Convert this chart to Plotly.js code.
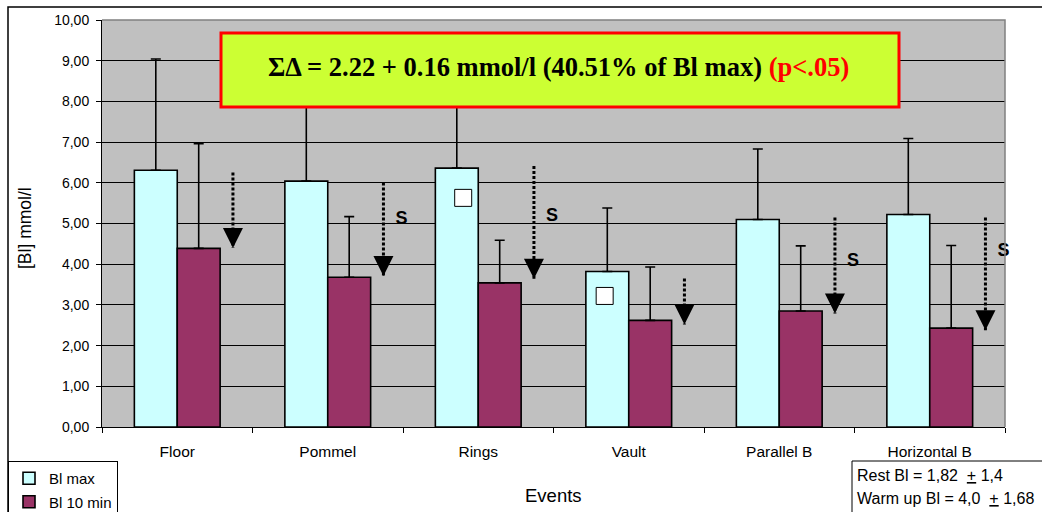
<!DOCTYPE html>
<html>
<head>
<meta charset="utf-8">
<script src="https://cdn.plot.ly/plotly-3.0.1.min.js"></script>
<style>
  html, body { margin: 0; padding: 0; background: #fff; }
  #chart { width: 1042px; height: 512px; }
</style>
</head>
<body>
<div id="chart"></div>
<script>
// Blood lactate per gymnastics event: peak value and value after 10 min
const events = ['Floor', 'Pommel', 'Rings', 'Vault', 'Parallel B', 'Horizontal B'];
const blMax = [6.31, 6.04, 6.36, 3.82, 5.10, 5.22];
const blMaxSd = [2.73, 2.46, 2.24, 1.56, 1.73, 1.87];
const bl10 = [4.39, 3.68, 3.54, 2.62, 2.85, 2.43];
const bl10Sd = [2.57, 1.49, 1.05, 1.31, 1.60, 2.03];

// Drop arrows (from -> to, mmol/l) and significance flags
const dropFrom = [6.25, 6.01, 6.41, 3.65, 5.15, 5.15];
const dropTo = [4.40, 3.71, 3.64, 2.52, 2.79, 2.38];
const sigLabel = ['', 'S', 'S', '', 'S', 'S'];
const sigLevel = [0, 5.09, 5.17, 0, 4.06, 4.32];

// Open square markers inside the Rings and Vault peak bars
const squareEvent = [2, 3];
const squareLevel = [5.63, 3.22];

const FONT = 'Liberation Sans, Arial, sans-serif';
const NB = '\u00a0';
const arrowShift = 0.37;
const sigShift = 0.49;
const squareShift = [-0.1, -0.16];

// Dotted shafts, one segment per event, separated by gaps
const shaftX = [], shaftY = [];
events.forEach((e, i) => {
  shaftX.push(i + arrowShift, i + arrowShift, null);
  shaftY.push(dropFrom[i], dropTo[i], null);
});

const sigX = [], sigY = [], sigT = [];
events.forEach((e, i) => {
  if (sigLabel[i]) { sigX.push(i + sigShift); sigY.push(sigLevel[i]); sigT.push(sigLabel[i]); }
});

const traces = [
  {
    type: 'bar', name: 'Bl max', x: events, y: blMax, legendgroup: 'max',
    marker: { color: '#CCFFFF', line: { color: '#000', width: 1.6 } },
    error_y: { type: 'data', symmetric: false, array: blMaxSd, arrayminus: blMaxSd.map(() => 0),
               color: '#000', thickness: 1.6, width: 5 }
  },
  {
    type: 'bar', name: 'Bl 10 min', x: events, y: bl10, legendgroup: 'ten',
    marker: { color: '#993366', line: { color: '#000', width: 1.6 } },
    error_y: { type: 'data', symmetric: false, array: bl10Sd, arrayminus: bl10Sd.map(() => 0),
               color: '#000', thickness: 1.6, width: 5 }
  },
  {
    type: 'scatter', mode: 'lines', xaxis: 'x2', x: shaftX, y: shaftY, showlegend: false,
    line: { color: '#000', width: 3, dash: '3px,2px' }, hoverinfo: 'skip'
  },
  {
    type: 'scatter', mode: 'markers', xaxis: 'x2', showlegend: false, hoverinfo: 'skip',
    x: events.map((e, i) => i + arrowShift), y: dropTo,
    marker: { symbol: 'arrow-down', size: 20, color: '#000', line: { width: 0 } },
    cliponaxis: false
  },
  {
    type: 'scatter', mode: 'markers', xaxis: 'x2', showlegend: false, hoverinfo: 'skip',
    x: squareEvent.map((e, k) => e + squareShift[k]), y: squareLevel,
    marker: { symbol: 'square', size: 17, color: '#fff', line: { color: '#000', width: 1 } }
  },
  {
    type: 'scatter', mode: 'text', xaxis: 'x2', showlegend: false, hoverinfo: 'skip',
    x: sigX, y: sigY, text: sigT, cliponaxis: false,
    textfont: { family: FONT, size: 18, color: '#000', weight: 'bold' }
  }
];

// pixel -> paper helpers for the decorations around the plot area
const L = 102, R = 1005, T = 20, B = 427;
const px = v => (v - L) / (R - L);
const py = v => (B - v) / (B - T);

const layout = {
  width: 1042, height: 512,
  margin: { l: L, r: 1042 - R, t: T, b: 512 - B, pad: 0, autoexpand: false },
  paper_bgcolor: '#fff', plot_bgcolor: '#C0C0C0',
  separators: ',.',
  barmode: 'group', bargap: 0.43, bargroupgap: 0,
  font: { family: FONT, color: '#000', size: 14 },
  showlegend: true,
  legend: {
    x: px(8), y: py(461), xanchor: 'left', yanchor: 'top',
    bgcolor: '#fff', bordercolor: '#000', borderwidth: 1,
    font: { family: FONT, size: 15 }, traceorder: 'grouped', tracegroupgap: 1, itemwidth: 30
  },
  xaxis: {
    type: 'category', range: [-0.5, 5.5], tickson: 'boundaries', automargin: false,
    ticks: 'outside', ticklen: 5, tickcolor: '#000', tickwidth: 1, ticklabelstandoff: 10,
    showline: true, linecolor: '#000', linewidth: 1, showgrid: false, zeroline: false,
    tickfont: { family: FONT, size: 15.5 },
    fixedrange: true
  },
  xaxis2: { overlaying: 'x', range: [-0.5, 5.5], visible: false, fixedrange: true },
  yaxis: {
    range: [0, 10], dtick: 1, tickformat: '.2f', automargin: false,
    ticks: 'outside', ticklen: 5, tickcolor: '#000', tickwidth: 1, ticklabelstandoff: 4,
    showline: true, linecolor: '#000', linewidth: 1,
    showgrid: true, gridcolor: '#000', gridwidth: 1, zeroline: false,
    tickfont: { family: FONT, size: 14 },
    fixedrange: true
  },
  shapes: [
    // grey frame on top and right of the plot area
    { type: 'path', xref: 'paper', yref: 'paper', path: 'M0,1 L1,1 L1,0',
      line: { color: '#808080', width: 1.5 }, layer: 'above' },
    // outer chart frame (top and left edges)
    { type: 'path', xref: 'paper', yref: 'paper',
      path: `M${px(8)},${py(520)} L${px(8)},${py(7)} L${px(1050)},${py(7)}`,
      line: { color: '#000', width: 1.5 }, layer: 'above' },
    // summary box
    { type: 'rect', xref: 'paper', yref: 'paper', x0: px(221), x1: px(899), y0: py(107), y1: py(33),
      fillcolor: '#CCFF33', line: { color: '#FF0000', width: 3 }, layer: 'above' },
    // resting / warm-up info box
    { type: 'rect', xref: 'paper', yref: 'paper', x0: px(852), x1: px(1050), y0: py(520), y1: py(461),
      fillcolor: '#fff', line: { color: '#000', width: 1 }, layer: 'above' }
  ],
  annotations: [
    // axis titles
    { xref: 'paper', yref: 'paper', x: px(25), y: py(228), showarrow: false, textangle: -90,
      xanchor: 'center', yanchor: 'middle', text: '[Bl] mmol/l', font: { family: FONT, size: 17.5 } },
    { xref: 'paper', yref: 'paper', x: px(553), y: py(496), showarrow: false,
      xanchor: 'center', yanchor: 'middle', text: 'Events', font: { family: FONT, size: 18.5 } },
    // summary text
    { xref: 'paper', yref: 'paper', x: px(558), y: py(67), showarrow: false,
      xanchor: 'center', yanchor: 'middle',
      text: 'ΣΔ = 2.22 + 0.16 mmol/l (40.51% of Bl max) <span style="color:#FF0000">(p&lt;.05)</span>',
      font: { family: 'Liberation Serif, Times New Roman, serif', size: 26.5, color: '#000', weight: 'bold' } },
    // resting / warm-up values
    { xref: 'paper', yref: 'paper', x: px(855), y: py(475), showarrow: false,
      xanchor: 'left', yanchor: 'middle', align: 'left',
      text: 'Rest Bl = 1,82' + NB + NB + '<u>+</u> 1,4', font: { family: FONT, size: 16 } },
    { xref: 'paper', yref: 'paper', x: px(855), y: py(498), showarrow: false,
      xanchor: 'left', yanchor: 'middle', align: 'left',
      text: 'Warm up Bl = 4,0' + NB + NB + '<u>+</u> 1,68', font: { family: FONT, size: 16 } }
  ]
};

Plotly.newPlot('chart', traces, layout, { displayModeBar: false, staticPlot: true });
</script>
</body>
</html>
